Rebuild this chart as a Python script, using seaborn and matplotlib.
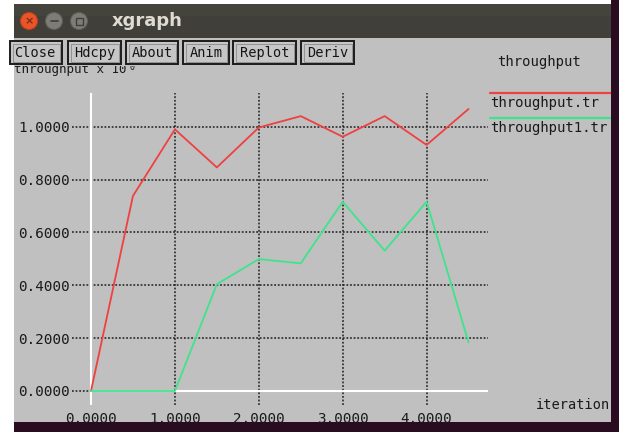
import numpy as np
import pandas as pd
import matplotlib
matplotlib.use("Agg")
import matplotlib.pyplot as plt
import seaborn as sns
from matplotlib.patches import Rectangle, Circle

# data
iteration = [0.0, 0.5, 1.0, 1.5, 2.0, 2.5, 3.0, 3.5, 4.0, 4.5]
throughput_tr = [0.0, 0.738, 0.990, 0.846, 0.997, 1.040, 0.962, 1.040, 0.931, 1.067]
throughput1_tr = [0.0, 0.0, 0.0, 0.404, 0.499, 0.483, 0.716, 0.531, 0.716, 0.184]
series_names = ["throughput.tr", "throughput1.tr"]
series_colors = ["#f04040", "#3ee48c"]
x_ticks = [0, 1, 2, 3, 4]
y_ticks = [0.0, 0.2, 0.4, 0.6, 0.8, 1.0]
buttons = ["Close", "Hdcpy", "About", "Anim", "Replot", "Deriv"]

sns.set_theme(style="white")
plt.rcParams['font.family'] = ['DejaVu Sans Mono', 'DejaVu Sans']

W, H = 619, 432
BG = "#c0c0c0"
MONO = 'DejaVu Sans Mono'

fig = plt.figure(figsize=(W / 100, H / 100), dpi=100)
fig.patch.set_facecolor("white")

# chrome axes in pixel coords
cx = fig.add_axes([0, 0, 1, 1])
cx.set_xlim(0, W)
cx.set_ylim(H, 0)
cx.axis("off")

# window body
cx.add_patch(Rectangle((14, 4), W - 14, H - 4, facecolor=BG, edgecolor="none"))
# title bar
cx.add_patch(Rectangle((14, 4), W - 14, 34, facecolor="#403f3a", edgecolor="none"))
cx.add_patch(Rectangle((14, 4), W - 14, 12, facecolor="#48473f", edgecolor="none", alpha=0.6))
# window buttons
cx.add_patch(Circle((29, 21), 8.5, facecolor="#e9552a", edgecolor="#b8401c", lw=0.8))
cx.text(29, 21.5, "×", color="#7a2a10", fontsize=8, ha="center", va="center",
        family="DejaVu Sans", fontweight="bold")
cx.add_patch(Circle((54, 21), 8.5, facecolor="#7d7c76", edgecolor="#5e5d58", lw=0.8))
cx.plot([50.5, 57.5], [21, 21], color="#3f3e3a", lw=1.2)
cx.add_patch(Circle((79, 21), 8.5, facecolor="#7d7c76", edgecolor="#5e5d58", lw=0.8))
cx.add_patch(Rectangle((75.5, 17.5), 7, 7, facecolor="none", edgecolor="#3f3e3a", lw=1))
cx.text(112, 21, "xgraph", color="#dfdbd2", fontsize=13, fontweight="bold",
        ha="left", va="center", family="DejaVu Sans")

# right and bottom desktop strips
cx.add_patch(Rectangle((611, 0), 8, H, facecolor="#2a0c20", edgecolor="none", zorder=5))
cx.add_patch(Rectangle((14, 422), W - 14, 10, facecolor="#2a0c20", edgecolor="none", zorder=5))

# y axis unit label, partly hidden by the button bar
cx.text(14, 70, "throughput x 10", fontsize=9, family=MONO, color="#1a1a1a",
        ha="left", va="center", zorder=2)
cx.text(129, 67, "0", fontsize=6, family=MONO, color="#1a1a1a", ha="left", va="center", zorder=2)
cx.add_patch(Rectangle((14, 38), 597, 28, facecolor=BG, edgecolor="none", zorder=3))

# xgraph buttons
button_edges = [(10, 62), (68, 121), (126, 178), (183, 229), (233, 296), (301, 354)]
for name, (x0, x1) in zip(buttons, button_edges):
    cx.add_patch(Rectangle((x0, 41), x1 - x0, 23, facecolor="#c6c6c6",
                           edgecolor="#1c1c1c", lw=1.4, zorder=4))
    cx.add_patch(Rectangle((x0 + 2.5, 43.5), x1 - x0 - 5, 18, facecolor="none",
                           edgecolor="#8a8a8a", lw=0.6, zorder=4))
    tx = (x0 + x1) / 2 if name != "Close" else 14
    cx.text(tx, 53, name, fontsize=9.8, family=MONO, color="#151515",
            ha="center" if name != "Close" else "left", va="center", zorder=5)

# legend, xgraph style
cx.text(497, 62, "throughput", fontsize=10, family=MONO, color="#1a1a1a",
        ha="left", va="center", zorder=5)
for i, (name, col) in enumerate(zip(series_names, series_colors)):
    ly = 93 + i * 25
    cx.plot([490, 611], [ly, ly], color=col, lw=1.6, zorder=4)
    cx.text(490, ly + 10, name, fontsize=10.1, family=MONO, color="#1a1a1a",
            ha="left", va="center", zorder=4)

cx.text(610, 405, "iteration", fontsize=9.8, family=MONO, color="#1a1a1a",
        ha="right", va="center")

# plotting area
left, right, top, bottom = 72, 488, 93, 405
ax = fig.add_axes([left / W, (H - bottom) / H, (right - left) / W, (bottom - top) / H])
ax.set_facecolor("none")

df = pd.DataFrame({
    "iteration": iteration * 2,
    "value": throughput_tr + throughput1_tr,
    "series": [series_names[0]] * len(iteration) + [series_names[1]] * len(iteration),
})
sns.lineplot(data=df, x="iteration", y="value", hue="series",
             palette=series_colors, linewidth=1.3, legend=False, ax=ax, zorder=4)

xpx = 83.9
ypx = 264.3
x0px, y0px = 91, 391
xl = (left - x0px) / xpx
xr = (right - x0px) / xpx
yb = (y0px - bottom) / ypx
yt = (y0px - top) / ypx
ax.set_xlim(xl, xr)
ax.set_ylim(yb, yt)

ax.set_xticks(x_ticks)
ax.set_yticks(y_ticks)
ax.set_xticklabels([f"{v:.4f}" for v in x_ticks], fontsize=10.3, family=MONO, color="#1a1a1a")
ax.set_yticklabels([f"{v:.4f}" for v in y_ticks], fontsize=10.3, family=MONO, color="#1a1a1a")
ax.tick_params(axis="both", length=0)
ax.tick_params(axis="y", pad=1.5)
ax.tick_params(axis="x", pad=5)
ax.set_xlabel("")
ax.set_ylabel("")
for s in ax.spines.values():
    s.set_visible(False)

ax.grid(True, color="#1e1e1e", linestyle=(0, (1, 1)), linewidth=1.3, alpha=0.85, zorder=1)
ax.set_axisbelow(True)

# white zero axes
ax.axvline(0, color="white", lw=1.5, zorder=3)
ax.axhline(0, xmin=(0 - xl) / (xr - xl), xmax=1, color="white", lw=1.5, zorder=3)

fig.savefig("out.png", dpi=100, facecolor=fig.get_facecolor())
